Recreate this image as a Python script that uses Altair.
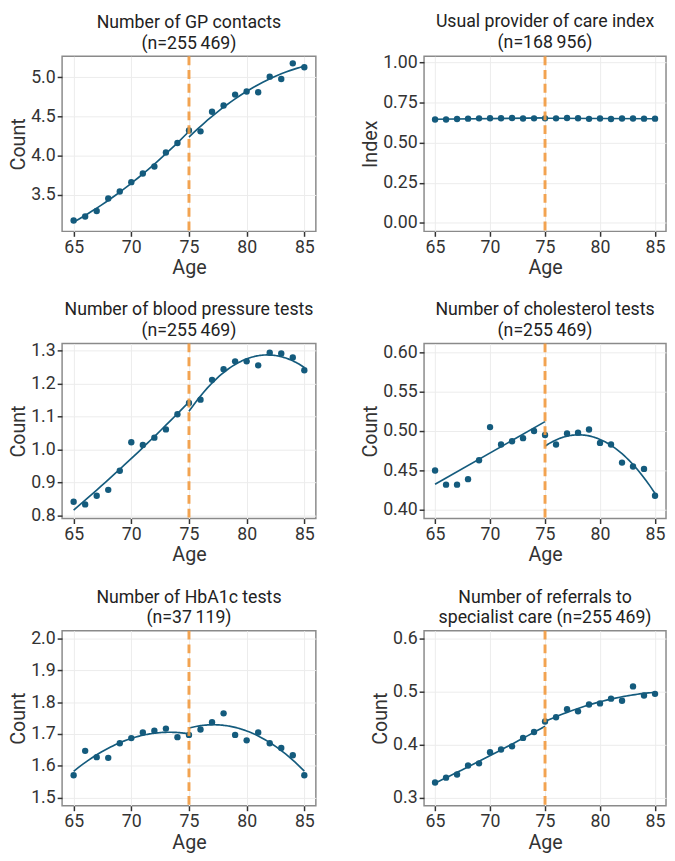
import altair as alt
import pandas as pd

ages = list(range(65, 86))

gp_contacts = [3.17, 3.22, 3.29, 3.45, 3.54, 3.66, 3.77, 3.86, 4.04, 4.16, 4.32,
               4.31, 4.56, 4.64, 4.78, 4.82, 4.81, 5.01, 4.98, 5.18, 5.13]
upc_index = [0.645, 0.645, 0.648, 0.650, 0.652, 0.653, 0.653, 0.654, 0.651, 0.652, 0.652,
             0.652, 0.654, 0.653, 0.649, 0.651, 0.648, 0.651, 0.651, 0.650, 0.650]
bp_tests = [0.842, 0.834, 0.860, 0.878, 0.936, 1.022, 1.014, 1.036, 1.061, 1.107, 1.141,
            1.151, 1.211, 1.243, 1.267, 1.267, 1.255, 1.293, 1.291, 1.279, 1.240]
chol_tests = [0.450, 0.432, 0.432, 0.439, 0.463, 0.505, 0.483, 0.487, 0.491, 0.500, 0.495,
              0.483, 0.497, 0.498, 0.502, 0.485, 0.483, 0.460, 0.455, 0.452, 0.418]
hba1c_tests = [1.570, 1.647, 1.627, 1.625, 1.671, 1.687, 1.705, 1.710, 1.717, 1.690, 1.697,
               1.714, 1.737, 1.765, 1.697, 1.680, 1.705, 1.671, 1.656, 1.633, 1.570]
referrals = [0.329, 0.338, 0.344, 0.361, 0.365, 0.386, 0.391, 0.397, 0.413, 0.424, 0.444,
             0.452, 0.467, 0.463, 0.476, 0.478, 0.487, 0.483, 0.510, 0.493, 0.496]

titles = [
    ["Number of GP contacts", "(n=255\u2009469)"],
    ["Usual provider of care index", "(n=168\u2009956)"],
    ["Number of blood pressure tests", "(n=255\u2009469)"],
    ["Number of cholesterol tests", "(n=255\u2009469)"],
    ["Number of HbA1c tests", "(n=37\u2009119)"],
    ["Number of referrals to", "specialist care (n=255\u2009469)"],
]
y_titles = ["Count", "Index", "Count", "Count", "Count", "Count"]
y_domains = [[3.03, 5.27], [-0.053, 1.039], [0.791, 1.321],
             [0.389, 0.611], [1.474, 2.025], [0.285, 0.615]]
y_ticks = [[3.5, 4.0, 4.5, 5.0], [0, 0.25, 0.5, 0.75, 1.0], [0.8, 0.9, 1.0, 1.1, 1.2, 1.3],
           [0.40, 0.45, 0.50, 0.55, 0.60], [1.5, 1.6, 1.7, 1.8, 1.9, 2.0], [0.3, 0.4, 0.5, 0.6]]
y_formats = [".1f", ".2f", ".1f", ".2f", ".1f", ".1f"]
fit_order_left = [2, 1, 2, 1, 2, 2]
fit_order_right = [2, 1, 2, 2, 2, 2]
x_ticks = [65, 70, 75, 80, 85]
cutoff = [75]
series = [gp_contacts, upc_index, bp_tests, chol_tests, hba1c_tests, referrals]
widths = [258, 246, 258, 246, 258, 246]

BLUE = "#145b7d"
ORANGE = "#f29a3f"
FONT = "Roboto"


def fit_layer(base, cond, order, extent):
    c = base.transform_filter(cond)
    if order == 1:
        c = c.transform_regression("age", "value", method="linear", extent=extent)
    else:
        c = c.transform_regression("age", "value", method="poly", order=order, extent=extent)
    return c.mark_line(color=BLUE, strokeWidth=1.7).encode(x="age:Q", y="value:Q")


panels = []
for i in range(6):
    df = pd.DataFrame({"age": ages, "value": series[i]})
    base = alt.Chart(df)
    x = alt.X("age:Q", scale=alt.Scale(domain=[64, 86], nice=False, zero=False),
              axis=alt.Axis(values=x_ticks, title="Age", format="d", labelOverlap=False,
                            tickCount=20))
    y = alt.Y("value:Q", scale=alt.Scale(domain=y_domains[i], nice=False, zero=False),
              axis=alt.Axis(values=y_ticks[i], format=y_formats[i], title=y_titles[i],
                            labelOverlap=False, tickCount=20))
    pts = base.mark_circle(size=42, color=BLUE, opacity=1).encode(x=x, y=y)
    left = fit_layer(base, "datum.age < 75", fit_order_left[i], [65, 75])
    right = fit_layer(base, "datum.age > 75", fit_order_right[i], [75, 85])
    rule = alt.Chart(pd.DataFrame({"age": cutoff})).mark_rule(
        color=ORANGE, strokeDash=[9, 5], strokeWidth=3, opacity=0.9
    ).encode(x="age:Q")
    panel = alt.layer(pts, left, right, rule).properties(
        width=widths[i], height=178,
        title=alt.TitleParams(text=titles[i]),
    )
    panels.append(panel)

chart = alt.concat(*panels, columns=2, spacing={"row": 22, "column": 44}).properties(
    padding={"left": 0, "top": -3, "right": 0, "bottom": 0}
).configure_view(
    stroke="#8a8a8a", strokeWidth=1.5
).configure_axis(
    grid=True, gridColor="#ececec", gridWidth=1, domain=False,
    tickColor="#333333", tickSize=5, tickWidth=1.5,
    labelFont=FONT, titleFont=FONT, labelFontSize=18, titleFontSize=20,
    labelColor="#333333", titleColor="#333333", titleFontWeight="normal",
    labelPadding=2, titlePadding=2, labelOverlap=False,
).configure_title(
    font=FONT, fontSize=18, fontWeight="normal", color="#222222",
    lineHeight=21, anchor="middle", offset=2,
)

chart.save("out.html", embed_options={"renderer": "svg", "actions": False})
